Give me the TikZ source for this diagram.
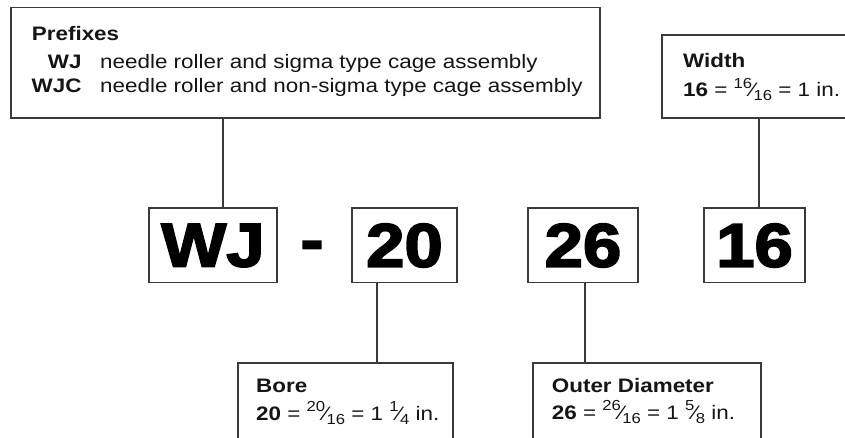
\documentclass[tikz,border=0pt]{standalone}
\usepackage{fontspec}
\setmainfont{Liberation Sans}
\newfontfamily\labfont[FakeStretch=1.15]{Liberation Sans}
\newfontfamily\bigfont[FakeStretch=1.12,FakeBold=3]{Liberation Sans Bold}
\definecolor{ln}{HTML}{3A3A3A}
\definecolor{tx}{HTML}{151515}
\newcommand\myfrac[2]{\raisebox{0.42em}{\fontsize{14.5}{14.5}\selectfont #1}\kern-0.06em{\char"2044}\kern-0.06em\raisebox{-0.22em}{\fontsize{14.5}{14.5}\selectfont #2}}
\tikzset{
  box/.style={draw=ln, line width=1.2pt, rectangle, inner sep=0pt, fill=white},
  bigbox/.style={box, text=black, font=\bigfont\fontsize{61.5}{70}\selectfont, text depth=0pt},
  lab/.style={inner sep=0pt, text=tx, font=\labfont\fontsize{19.5}{22}\selectfont},
  conn/.style={draw=ln, line width=1.2pt},
}
\begin{document}
\begin{tikzpicture}[x=1pt,y=-1pt]
\useasboundingbox[fill=white] (0,0) rectangle (845,437);
\clip (0,0) rectangle (845,437);
% label boxes
\node[box, minimum width=589pt, minimum height=110.5pt] (pre) at (305.5,62.75) {};
\node[box, minimum width=218pt, minimum height=83pt] (wid) at (771,76.5) {};
\node[box, minimum width=215pt, minimum height=97pt] (bore) at (345.5,411.5) {};
\node[box, minimum width=228pt, minimum height=97pt] (od) at (647,411.5) {};
% code boxes
\node[bigbox, minimum width=128pt, minimum height=74.5pt] (wj) at (213,245.25) {WJ};
\node[bigbox, minimum width=105pt, minimum height=74.5pt] (b20) at (404.5,245.25) {20};
\node[bigbox, minimum width=110pt, minimum height=74.5pt] (b26) at (583,245.25) {26};
\node[bigbox, minimum width=101pt, minimum height=74.5pt] (b16) at (754.5,245.25) {16};
\node[inner sep=0pt, font=\bigfont\fontsize{61.5}{70}\selectfont, text depth=0pt] (dash) at (312,251) {-};
% connectors
\draw[conn] ([xshift=10pt]wj.north) -- ([xshift=10pt]wj.north |- pre.south);
\draw[conn] ([xshift=4.5pt]b16.north) -- ([xshift=4.5pt]b16.north |- wid.south);
\draw[conn] ([xshift=-27.5pt]b20.south) -- ([xshift=-27.5pt]b20.south |- bore.north);
\draw[conn] ([xshift=2pt]b26.south) -- ([xshift=2pt]b26.south |- od.north);
% prefix texts
\node[lab, anchor=base west] (tpre) at (31.7,40.7) {\bfseries Prefixes};
\node[lab, anchor=base east] (twj) at (81.7,68) {\bfseries WJ};
\node[lab, anchor=base west] (dwj) at (100,68) {needle roller and sigma type cage assembly};
\node[lab, anchor=base east] (twjc) at (81.7,92.7) {\bfseries WJC};
\node[lab, anchor=base west] (dwjc) at (100,92.7) {needle roller and non-sigma type cage assembly};
% width texts
\node[lab, anchor=base west] (twid) at (683,67.3) {\bfseries Width};
\node[lab, anchor=base west] (dwid) at (683,96.7) {\textbf{16} = \myfrac{16}{16} = 1 in.};
% bore texts
\node[lab, anchor=base west] (tbore) at (256,392.3) {\bfseries Bore};
\node[lab, anchor=base west] (dbore) at (256,420) {\textbf{20} = \myfrac{20}{16} = 1 \myfrac{1}{4} in.};
% outer diameter texts
\node[lab, anchor=base west] (tod) at (551.7,392.7) {\bfseries Outer Diameter};
\node[lab, anchor=base west] (dod) at (551.7,419) {\textbf{26} = \myfrac{26}{16} = 1 \myfrac{5}{8} in.};
\end{tikzpicture}
\end{document}
